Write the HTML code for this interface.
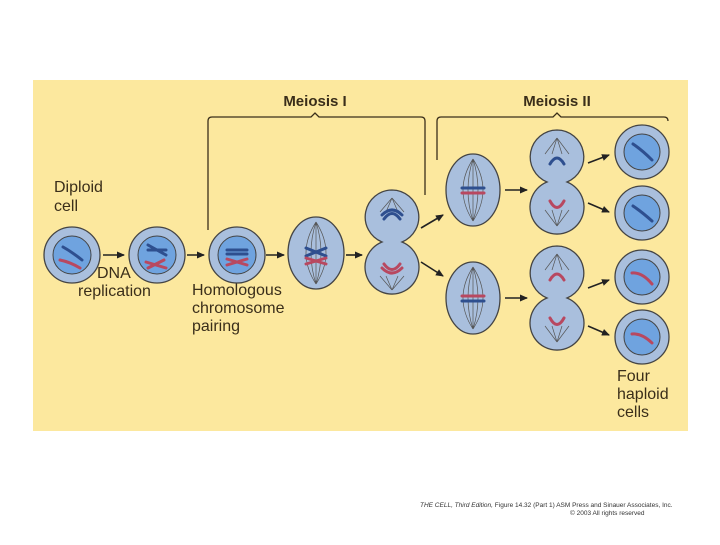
<!DOCTYPE html>
<html><head><style>
body{margin:0;background:#fff;width:720px;height:540px;overflow:hidden;font-family:"Liberation Sans",sans-serif}
</style></head><body>
<svg width="720" height="540" xmlns="http://www.w3.org/2000/svg">
<defs>
<marker id="a" markerWidth="8" markerHeight="8" refX="7" refY="4" orient="auto" markerUnits="userSpaceOnUse"><path d="M0,0.5 L8,4 L0,7.5 Z" fill="#222"/></marker>
</defs>
<rect x="33" y="80" width="655" height="351" fill="#fce89e"/>
<g font-family="Liberation Sans, sans-serif" fill="#3a2e1a">
<text x="315" y="106" font-size="15" font-weight="bold" text-anchor="middle">Meiosis I</text>
<text x="557" y="106" font-size="15" font-weight="bold" text-anchor="middle">Meiosis II</text>
<text x="54" y="192" font-size="16">Diploid</text><text x="54" y="211" font-size="16">cell</text>
<text x="97" y="278" font-size="16">DNA</text><text x="78" y="296" font-size="16">replication</text>
<text x="192" y="295" font-size="16">Homologous</text><text x="192" y="313" font-size="16">chromosome</text><text x="192" y="331" font-size="16">pairing</text>
<text x="617" y="381" font-size="16">Four</text><text x="617" y="399" font-size="16">haploid</text><text x="617" y="417" font-size="16">cells</text>
</g>
<g fill="none" stroke="#3a2e1a" stroke-width="1.3">
<path d="M208,230 V121 Q208,117 212,117 H311 L315,113 L319,117 H421 Q425,117 425,121 V195"/>
<path d="M437,160 V121 Q437,117 441,117 H553 L557,113 L561,117 H664 Q668,117 668,121"/>
</g>
<g stroke="#222" stroke-width="1.6" marker-end="url(#a)">
<line x1="103" y1="255" x2="124" y2="255"/><line x1="187" y1="255" x2="204" y2="255"/>
<line x1="266" y1="255" x2="284" y2="255"/><line x1="346" y1="255" x2="362" y2="255"/>
<line x1="421" y1="228" x2="443" y2="215"/><line x1="421" y1="262" x2="443" y2="276"/>
<line x1="505" y1="190" x2="527" y2="190"/><line x1="505" y1="298" x2="527" y2="298"/>
<line x1="588" y1="163" x2="609" y2="155"/><line x1="588" y1="203" x2="609" y2="212"/>
<line x1="588" y1="288" x2="609" y2="280"/><line x1="588" y1="326" x2="609" y2="335"/>
</g>
<g stroke="#444" stroke-width="1.3" fill="#a9bfdd">
<circle cx="72" cy="255" r="28"/><circle cx="157" cy="255" r="28"/><circle cx="237" cy="255" r="28"/>
<ellipse cx="316" cy="253" rx="28" ry="36"/>
<path d="M392,190 a27,27 0 0 1 10,52 a27,27 0 1 1 -20,0 a27,27 0 0 1 10,-52Z"/>
<ellipse cx="473" cy="190" rx="27" ry="36"/><ellipse cx="473" cy="298" rx="27" ry="36"/>
<path d="M557,130 a27,27 0 0 1 10,52 a27,27 0 1 1 -20,0 a27,27 0 0 1 10,-52Z"/>
<path d="M557,246 a27,27 0 0 1 10,52 a27,27 0 1 1 -20,0 a27,27 0 0 1 10,-52Z"/>
<circle cx="642" cy="152" r="27"/><circle cx="642" cy="213" r="27"/><circle cx="642" cy="277" r="27"/><circle cx="642" cy="337" r="27"/>
</g>
<g stroke="#444" stroke-width="1" fill="#6fa3df">
<circle cx="72" cy="255" r="19"/><circle cx="157" cy="255" r="19"/><circle cx="237" cy="255" r="19"/>
<circle cx="642" cy="152" r="18"/><circle cx="642" cy="213" r="18"/><circle cx="642" cy="277" r="18"/><circle cx="642" cy="337" r="18"/>
</g>
<g stroke="#555" stroke-width="0.7" fill="none">
<path d="M316,222 Q296,253 316,284 M316,222 Q336,253 316,284 M316,222 Q306,253 316,284 M316,222 Q326,253 316,284 M316,222 V284"/>
<path d="M473,159 Q453,190 473,221 M473,159 Q493,190 473,221 M473,159 Q463,190 473,221 M473,159 Q483,190 473,221 M473,159 V221"/>
<path d="M473,267 Q453,298 473,329 M473,267 Q493,298 473,329 M473,267 Q463,298 473,329 M473,267 Q483,298 473,329 M473,267 V329"/>
<path d="M392,198 L380,212 M392,198 L404,212 M392,198 L386,212 M392,198 L398,212"/>
<path d="M392,290 L380,276 M392,290 L404,276 M392,290 L386,276 M392,290 L398,276"/>
<path d="M557,138 L545,154 M557,138 L569,154 M557,138 L552,154 M557,138 L562,154"/>
<path d="M557,226 L545,210 M557,226 L569,210 M557,226 L552,210 M557,226 L562,210"/>
<path d="M557,254 L545,270 M557,254 L569,270 M557,254 L552,270 M557,254 L562,270"/>
<path d="M557,342 L545,326 M557,342 L569,326 M557,342 L552,326 M557,342 L562,326"/>
</g>
<g stroke-width="3" fill="none" stroke-linecap="round">
<path d="M63,247 Q72,252 82,260" stroke="#2e4f8f"/><path d="M60,260 Q70,262 80,268" stroke="#b84860"/>
<path d="M148,245 L166,255 M148,250 L166,250" stroke="#2e4f8f"/><path d="M146,262 L166,268 M148,268 L164,260" stroke="#b84860"/>
<path d="M227,250 H247 M227,254 H247" stroke="#2e4f8f"/><path d="M227,259 L247,265 M227,265 L247,259" stroke="#b84860"/>
<path d="M306,248 L326,256 M306,256 L326,248" stroke="#2e4f8f"/><path d="M306,258 L326,264 M306,264 L326,258" stroke="#b84860"/>
<path d="M382,215 Q392,205 402,215 M384,219 Q392,208 400,219" stroke="#2e4f8f"/>
<path d="M382,268 Q392,278 402,268 M384,264 Q392,275 400,264" stroke="#b84860"/>
<path d="M462,188 H484" stroke="#2e4f8f"/><path d="M462,193 H484" stroke="#b84860"/>
<path d="M462,296 H484" stroke="#b84860"/><path d="M462,301 H484" stroke="#2e4f8f"/>
<path d="M550,164 Q557,152 564,164" stroke="#2e4f8f"/><path d="M550,201 Q557,214 564,201" stroke="#b84860"/>
<path d="M550,280 Q557,268 564,280" stroke="#b84860"/><path d="M550,318 Q557,331 564,318" stroke="#b84860"/>
<path d="M633,144 Q642,150 652,160" stroke="#2e4f8f"/><path d="M633,206 Q642,212 652,221" stroke="#2e4f8f"/>
<path d="M632,273 Q642,272 652,284" stroke="#b84860"/><path d="M632,334 Q642,333 652,343" stroke="#b84860"/>
</g>
<text x="420" y="507" font-size="6.5" fill="#333" font-family="Liberation Sans, sans-serif"><tspan font-style="italic">THE CELL, Third Edition,</tspan> Figure 14.32 (Part 1)  ASM Press and Sinauer Associates, Inc.</text>
<text x="570" y="515" font-size="6.5" fill="#333" font-family="Liberation Sans, sans-serif">© 2003 All rights reserved</text>
</svg>
</body></html>
